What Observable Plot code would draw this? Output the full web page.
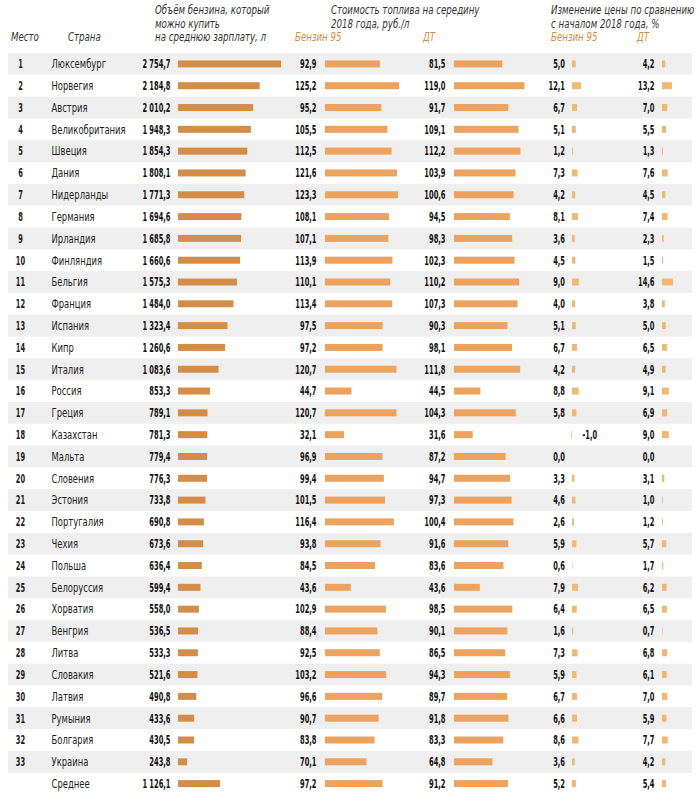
<!DOCTYPE html>
<html>
<head>
<meta charset="utf-8">
<script src="https://cdn.jsdelivr.net/npm/d3@7"></script>
<script src="https://cdn.jsdelivr.net/npm/@observablehq/plot@0.6"></script>
<style>
  html, body { margin: 0; padding: 0; background: #fff; }
  #chart { position: relative; width: 700px; height: 808px; font-family: "DejaVu Sans Condensed", "DejaVu Sans", sans-serif; color: #222; overflow: hidden; }
  .hdr { position: absolute; font-style: italic; font-size: 12px; line-height: 13.5px; color: #333; white-space: nowrap; transform: scaleX(0.8); transform-origin: 0 0; }
  .or { color: #d98c40; }
  .col { position: absolute; }
  .col svg { overflow: visible; background: transparent; max-width: none; }
</style>
</head>
<body>
<div id="chart"></div>
<script>
// ---------- DATA ----------
const countries = ["Люксембург","Норвегия","Австрия","Великобритания","Швеция","Дания","Нидерланды","Германия","Ирландия","Финляндия","Бельгия","Франция","Испания","Кипр","Италия","Россия","Греция","Казахстан","Мальта","Словения","Эстония","Португалия","Чехия","Польша","Белоруссия","Хорватия","Венгрия","Литва","Словакия","Латвия","Румыния","Болгария","Украина"];
const volume = [2754.7,2184.8,2010.2,1948.3,1854.3,1808.1,1771.3,1694.6,1685.8,1660.6,1575.3,1484.0,1323.4,1260.6,1083.6,853.3,789.1,781.3,779.4,776.3,733.8,690.8,673.6,636.4,599.4,558.0,536.5,533.3,521.6,490.8,433.6,430.5,243.8];
const price95 = [92.9,125.2,95.2,105.5,112.5,121.6,123.3,108.1,107.1,113.9,110.1,113.4,97.5,97.2,120.7,44.7,120.7,32.1,96.9,99.4,101.5,116.4,93.8,84.5,43.6,102.9,88.4,92.5,103.2,96.6,90.7,83.8,70.1];
const priceDT = [81.5,119.0,91.7,109.1,112.2,103.9,100.6,94.5,98.3,102.3,110.2,107.3,90.3,98.1,111.8,44.5,104.3,31.6,87.2,94.7,97.3,100.4,91.6,83.6,43.6,98.5,90.1,86.5,94.3,89.7,91.8,83.3,64.8];
const change95 = [5.0,12.1,6.7,5.1,1.2,7.3,4.2,8.1,3.6,4.5,9.0,4.0,5.1,6.7,4.2,8.8,5.8,-1.0,0.0,3.3,4.6,2.6,5.9,0.6,7.9,6.4,1.6,7.3,5.9,6.7,6.6,8.6,3.6];
const changeDT = [4.2,13.2,7.0,5.5,1.3,7.6,4.5,7.4,2.3,1.5,14.6,3.8,5.0,6.5,4.9,9.1,6.9,9.0,0.0,3.1,1.0,1.2,5.7,1.7,6.2,6.5,0.7,6.8,6.1,7.0,5.9,7.7,4.2];
const avgLabel = "Среднее";
const avgValues = {volume: 1126.1, price95: 97.2, priceDT: 91.2, change95: 5.2, changeDT: 5.4};

// ---------- TABLE ----------
const rows = countries.map((name, i) => ({
  rank: String(i + 1), name, avg: false,
  volume: volume[i], price95: price95[i], priceDT: priceDT[i],
  change95: change95[i], changeDT: changeDT[i]
}));
rows.push({rank: "", name: avgLabel, avg: true, ...avgValues});
const names = rows.map(d => d.name);

const fmt = d3.formatLocale({decimal: ",", thousands: "\u00a0", grouping: [3], currency: ["", ""], minus: "-"}).format(",.1f");

const ROW_H = 21.81;
const TOP = 53;
const H = ROW_H * rows.length;
const FONT = "'DejaVu Sans Condensed', 'DejaVu Sans', sans-serif";
const BAR_INSET = (ROW_H - 7) / 2;
const NUM_SCALE = 0.62, NAME_SCALE = 0.78;

const chart = document.getElementById("chart");

// horizontally condense text glyphs (the original uses a condensed typeface)
function condense(group, s) {
  group.querySelectorAll("text").forEach(t => {
    const xa = t.getAttribute("x");
    const x = xa != null && isFinite(+xa) ? +xa : 0;
    if (xa != null && isFinite(+xa)) t.removeAttribute("x");
    const tr = t.getAttribute("transform") || "";
    t.setAttribute("transform", `${tr} translate(${x},0) scale(${s},1)`);
  });
}

function place(el, left) {
  const d = document.createElement("div");
  d.className = "col";
  d.style.left = left + "px";
  d.style.top = TOP + "px";
  d.appendChild(el);
  chart.appendChild(d);
}

// headers
const headers = [
  {x: 11, y: 31, html: "Место"},
  {x: 68, y: 31, html: "Страна"},
  {x: 155, y: 4, html: "Объём бензина, который<br>можно купить<br>на среднюю зарплату, л"},
  {x: 331, y: 4, html: "Стоимость топлива на середину<br>2018 года, руб./л"},
  {x: 295, y: 31, html: "<span class='or'>Бензин 95</span>"},
  {x: 423, y: 31, html: "<span class='or'>ДТ</span>"},
  {x: 551, y: 4, html: "Изменение цены по сравнению<br>с началом 2018 года, %"},
  {x: 551, y: 31, html: "<span class='or'>Бензин 95</span>"},
  {x: 637, y: 31, html: "<span class='or'>ДТ</span>"}
];
for (const h of headers) {
  const d = document.createElement("div");
  d.className = "hdr";
  d.style.left = h.x + "px";
  d.style.top = h.y + "px";
  d.innerHTML = h.html;
  chart.appendChild(d);
}

const yScale = {domain: names, range: [0, H], padding: 0, round: false, axis: null};

// background bands + rank + country
const bg = Plot.plot({
  width: 700, height: H,
  marginTop: 0, marginBottom: 0, marginLeft: 8, marginRight: 8,
  y: yScale,
  style: {fontFamily: FONT, fontSize: "12px", background: "transparent", overflow: "visible"},
  marks: [
    Plot.cell(rows.filter((d, i) => !d.avg && i % 2 === 0), {y: "name", fill: "#efefef", inset: 0}),
    Plot.text(rows, {y: "name", text: "rank", frameAnchor: "left", dx: 12, textAnchor: "middle", fontWeight: "bold", fill: "#1a1a1a"}),
    Plot.text(rows, {y: "name", text: "name", frameAnchor: "left", dx: 43, textAnchor: "start", fill: "#222", fontWeight: d => d.avg ? "bold" : "normal"})
  ]
});
{
  const groups = bg.querySelectorAll('g[aria-label="text"]');
  condense(groups[0], NUM_SCALE);
  condense(groups[1], NAME_SCALE);
}
place(bg, 0);

// value columns
function column({key, baseline, scale, lo, hi, fill, gap}) {
  const ml = 70, mr = 10;
  const x0 = ml + lo * scale;
  const width = ml + hi * scale + mr;
  const p = Plot.plot({
    width, height: H,
    marginTop: 0, marginBottom: 0, marginLeft: x0, marginRight: mr,
    x: {domain: [lo, hi], range: [x0, ml + hi * scale], axis: null},
    y: yScale,
    style: {fontFamily: FONT, fontSize: "12px", background: "transparent", overflow: "visible"},
    marks: [
      Plot.barX(rows, {x: key, y: "name", fill, insetTop: BAR_INSET, insetBottom: BAR_INSET}),
      Plot.text(rows.filter(d => d[key] >= 0), {x: () => 0, y: "name", text: d => fmt(d[key]), textAnchor: "end", dx: -gap, fontWeight: "bold", fill: "#111"}),
      Plot.text(rows.filter(d => d[key] < 0), {x: () => 0, y: "name", text: d => fmt(d[key]), textAnchor: "start", dx: 10, fontWeight: "bold", fill: "#111"})
    ]
  });
  p.querySelectorAll('g[aria-label="text"]').forEach(g => condense(g, NUM_SCALE));
  place(p, baseline - ml);
}

column({key: "volume", baseline: 178, scale: 0.0374, lo: 0, hi: 2800, fill: "#d48d47", gap: 8});
column({key: "price95", baseline: 324.5, scale: 0.592, lo: 0, hi: 130, fill: "#eda35e", gap: 9});
column({key: "priceDT", baseline: 453.5, scale: 0.592, lo: 0, hi: 130, fill: "#eda35e", gap: 9});
column({key: "change95", baseline: 572.3, scale: 0.75, lo: -2, hi: 15, fill: "#f2b871", gap: 7.5});
column({key: "changeDT", baseline: 662.3, scale: 0.75, lo: -2, hi: 15, fill: "#f2b871", gap: 8});
</script>
</body>
</html>
